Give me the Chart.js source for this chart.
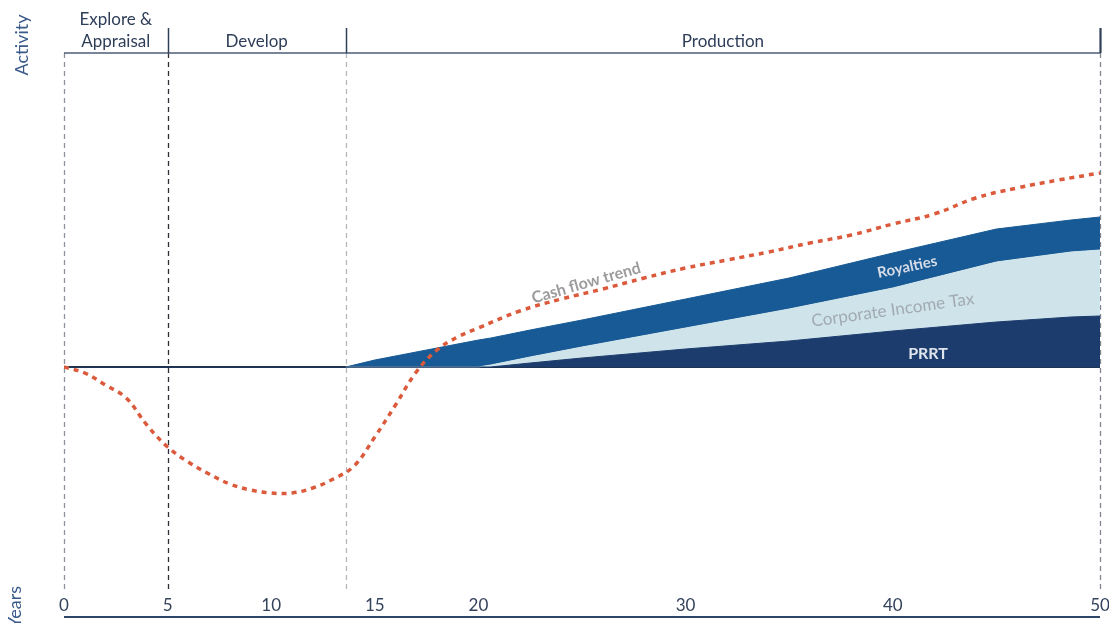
<!DOCTYPE html>
<html>
<head>
<meta charset="utf-8">
<script src="https://cdn.jsdelivr.net/npm/chart.js@4.4.1/dist/chart.umd.min.js"></script>
<style>
  html, body { margin: 0; padding: 0; background: #ffffff; }
  #wrap { width: 1109px; height: 623px; }
</style>
</head>
<body>
<div id="wrap"><canvas id="c" width="1109" height="623"></canvas></div>
<script>
// Project life cycle: cash flow trend and the government take during production
const xTicks = [0, 5, 10, 15, 20, 30, 40, 50];

// Phases and the year each one ends
const phaseNames = [['Explore &', 'Appraisal'], ['Develop'], ['Production']];
const phaseStarts = [0, 5, 13.6];
const phaseEnds = [5, 13.6, 50];

// Cash flow trend (activity units per year)
const cashYears = [0, 1, 2, 3, 4, 5, 6, 7, 8, 9, 10, 11, 12, 13, 14, 15, 16, 17, 18, 19, 20, 22, 24, 26, 28, 30, 32, 34, 36, 38, 40, 42, 44, 46, 48, 50];
const cashFlow  = [0, -0.6, -1.8, -3.1, -5.8, -8.0, -9.5, -10.7, -11.7, -12.3, -12.6, -12.6, -12.1, -11.2, -9.9, -7.0, -3.8, -0.5, 1.7, 3.0, 3.9, 5.6, 6.8, 7.8, 8.9, 9.9, 10.7, 11.5, 12.4, 13.2, 14.3, 15.3, 16.9, 17.9, 18.7, 19.4];

// Government take during production, stacked from the bottom
const takeYears = [13.6, 15, 17.5, 20, 20.6, 22.5, 25, 30, 35, 40, 45, 48.6, 50];
const prrt      = [0, 0, 0, 0, 0, 0.4, 0.9, 1.8, 2.6, 3.6, 4.5, 5.0, 5.1];
const corpTax   = [0, 0, 0, 0, 0.2, 0.6, 1.1, 2.1, 3.2, 4.3, 6.0, 6.5, 6.6];
const royalties = [0, 0.7, 1.7, 2.7, 2.7, 2.7, 2.7, 2.9, 3.1, 3.5, 3.3, 3.2, 3.3];

// In-chart captions: text, anchor year, anchor value, angle (degrees)
const captions = [
  { text: 'Cash flow trend', x: 25.2, y: 8.4, angle: -16, color: '#9c9c9c', font: 'bold 16px Lato, "Open Sans", sans-serif' },
  { text: 'Royalties', x: 40.7, y: 10.0, angle: -12, color: '#d6dce7', font: 'bold 15px Lato, "Open Sans", sans-serif' },
  { text: 'Corporate Income Tax', x: 40.0, y: 5.7, angle: -8, color: '#a2aab2', font: '17px Lato, "Open Sans", sans-serif' },
  { text: 'PRRT', x: 41.7, y: 1.3, angle: 0, color: '#dfe4ed', font: 'bold 16px Lato, "Open Sans", sans-serif' }
];

const FONT = 'Lato, "Open Sans", sans-serif';
const pts = (xs, ys) => xs.map((x, i) => ({ x: x, y: ys[i] }));

// Dashed year markers: phase edges
const markerYears = [0, 5, 13.6, 50];
const markerColors = ['#8d939c', '#2c2f36', '#b4b8be', '#80868f'];

const decor = {
  id: 'decor',
  beforeDatasetsDraw(chart) {
    const { ctx, chartArea: a, scales: { x, y } } = chart;
    ctx.save();
    // dashed phase markers
    ctx.lineWidth = 1.3;
    ctx.setLineDash([5, 4]);
    markerYears.forEach((yr, i) => {
      const px = Math.round(x.getPixelForValue(yr)) + 0.5;
      ctx.strokeStyle = markerColors[i];
      ctx.beginPath();
      ctx.moveTo(px, a.top);
      ctx.lineTo(px, a.bottom);
      ctx.stroke();
    });
    ctx.setLineDash([]);
    // zero line
    const y0 = y.getPixelForValue(0);
    ctx.strokeStyle = '#1f3452';
    ctx.lineWidth = 2;
    ctx.beginPath();
    ctx.moveTo(x.getPixelForValue(0), y0);
    ctx.lineTo(x.getPixelForValue(50), y0);
    ctx.stroke();
    ctx.restore();
  },
  afterDatasetsDraw(chart) {
    const { ctx, chartArea: a, scales: { x, y } } = chart;
    ctx.save();
    // captions
    captions.forEach(c => {
      ctx.save();
      ctx.translate(x.getPixelForValue(c.x), y.getPixelForValue(c.y));
      ctx.rotate(c.angle * Math.PI / 180);
      ctx.font = c.font;
      ctx.fillStyle = c.color;
      ctx.textAlign = 'center';
      ctx.textBaseline = 'middle';
      ctx.fillText(c.text, 0, 0);
      ctx.restore();
    });

    // phase header
    const x0 = x.getPixelForValue(0), x50 = x.getPixelForValue(50);
    const hy = a.top;
    ctx.strokeStyle = '#4b5d78';
    ctx.lineWidth = 1.5;
    ctx.beginPath();
    ctx.moveTo(x0, hy);
    ctx.lineTo(x50, hy);
    ctx.stroke();
    ctx.strokeStyle = '#2f3f58';
    phaseEnds.forEach((e, i) => {
      const px = Math.round(x.getPixelForValue(e)) + 0.5;
      ctx.lineWidth = i === phaseEnds.length - 1 ? 2.2 : 1.5;
      ctx.beginPath();
      ctx.moveTo(px, hy - 25);
      ctx.lineTo(px, hy);
      ctx.stroke();
    });
    ctx.font = '17px ' + FONT;
    ctx.fillStyle = '#2e3d58';
    ctx.textAlign = 'center';
    ctx.textBaseline = 'middle';
    phaseNames.forEach((lines, i) => {
      const cx = (x.getPixelForValue(phaseStarts[i]) + x.getPixelForValue(phaseEnds[i])) / 2;
      lines.forEach((t, j) => {
        const ty = hy - 11 - (lines.length - 1 - j) * 22;
        ctx.fillText(t, cx, ty);
      });
    });

    // bottom years axis line
    ctx.strokeStyle = '#2d4566';
    ctx.lineWidth = 2;
    ctx.beginPath();
    ctx.moveTo(x0, a.bottom + 25);
    ctx.lineTo(x50, a.bottom + 25);
    ctx.stroke();

    // axis titles
    ctx.fillStyle = '#3a5a8a';
    ctx.font = '18px ' + FONT;
    ctx.save();
    ctx.translate(22, 45);
    ctx.rotate(-Math.PI / 2);
    ctx.fillText('Activity', 0, 0);
    ctx.restore();
    ctx.save();
    ctx.translate(15, 607);
    ctx.rotate(-Math.PI / 2);
    ctx.fillText('Years', 0, 0);
    ctx.restore();
    ctx.restore();
  }
};

new Chart(document.getElementById('c'), {
  type: 'line',
  data: {
    datasets: [
      {
        label: 'Cash flow trend',
        data: pts(cashYears, cashFlow),
        stack: 'cash',
        borderColor: '#dc5a3c',
        borderWidth: 3.5,
        borderDash: [5, 5],
        pointRadius: 0,
        tension: 0.4,
        fill: false,
        order: 0
      },
      {
        label: 'PRRT',
        data: pts(takeYears, prrt),
        stack: 'take',
        borderColor: '#1b3c6c',
        backgroundColor: '#1b3c6c',
        borderWidth: 1,
        pointRadius: 0,
        tension: 0,
        fill: 'origin',
        order: 1
      },
      {
        label: 'Corporate Income Tax',
        data: pts(takeYears, corpTax),
        stack: 'take',
        borderColor: '#cfe3ea',
        backgroundColor: '#cfe3ea',
        borderWidth: 1,
        pointRadius: 0,
        tension: 0,
        fill: '-1',
        order: 1
      },
      {
        label: 'Royalties',
        data: pts(takeYears, royalties),
        stack: 'take',
        borderColor: '#175a95',
        backgroundColor: '#175a95',
        borderWidth: 1,
        pointRadius: 0,
        tension: 0,
        fill: '-1',
        order: 1
      }
    ]
  },
  options: {
    responsive: false,
    animation: false,
    events: [],
    layout: { padding: { top: 53, left: 64, right: 9, bottom: 8 } },
    plugins: { legend: { display: false }, tooltip: { enabled: false } },
    scales: {
      x: {
        type: 'linear',
        min: 0,
        max: 50,
        grid: { display: false, drawTicks: false, tickLength: 0 },
        border: { display: false },
        afterBuildTicks: s => { s.ticks = xTicks.map(v => ({ value: v })); },
        afterFit: s => { s.height = 23; s.paddingLeft = 0; s.paddingRight = 0; },
        ticks: {
          padding: 3,
          color: '#34425c',
          font: { family: FONT, size: 17 },
          maxRotation: 0,
          autoSkip: false
        }
      },
      y: {
        display: false,
        stacked: true,
        min: -22.5,
        max: 31.4
      }
    }
  },
  plugins: [decor]
});
</script>
</body>
</html>
